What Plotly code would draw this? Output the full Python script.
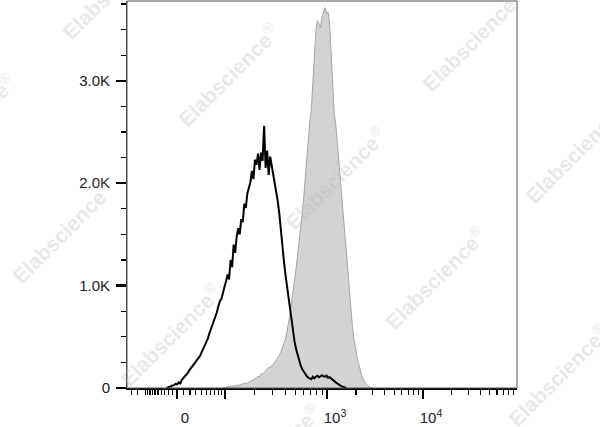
import numpy as np
import plotly.graph_objects as go

# ---------------- data (256-channel biexponential display) ----------------
control_start = 26
control_counts = [
    0, 5, 12, 15, 25, 30, 40, 35, 55, 45,
    80, 95, 110, 130, 150, 175, 195, 215, 235, 260,
    280, 300, 315, 350, 380, 410, 450, 480, 530, 570,
    610, 650, 710, 740, 800, 850, 870, 950, 990, 1040,
    1110, 1060, 1250, 1180, 1400, 1320, 1480, 1560, 1500, 1650,
    1620, 1800, 1760, 1900, 1960, 2010, 2120, 2040, 2230, 2180,
    2290, 2130, 2300, 2220, 2560, 2150, 2320, 2080, 2260, 2170,
    2120, 2000, 1900, 1820, 1700, 1520, 1360, 1240, 1110, 1000,
    880, 760, 640, 550, 450, 380, 320, 260, 220, 185,
    160, 140, 115, 100, 95, 85, 110, 95, 110, 120,
    105, 120, 125, 115, 110, 120, 100, 105, 90, 80,
    70, 55, 45, 35, 20, 15, 10, 5, 0,
]

stained_start = 63
stained_counts = [
    0, 5, 8, 10, 12, 14, 15, 20, 18, 25,
    28, 30, 35, 38, 40, 50, 45, 60, 65, 70,
    85, 90, 100, 115, 110, 140, 135, 150, 165, 175,
    200, 195, 220, 230, 250, 270, 290, 320, 350, 390,
    430, 480, 550, 620, 720, 830, 930, 1050, 1170, 1300,
    1420, 1560, 1700, 1860, 2060, 2280, 2450, 2600, 2720, 2980,
    3300, 3490, 3590, 3560, 3520, 3620, 3670, 3715, 3660, 3670,
    3560, 3300, 2950, 2680, 2580, 2400, 2250, 2080, 1900, 1720,
    1560, 1400, 1150, 950, 760, 600, 480, 380, 300, 240,
    170, 125, 85, 55, 35, 20, 10, 5, 0,
]

x_major_values = [0, 1e2, 1e3, 1e4]
x_major_labels = ["0", " ", "10<sup>3</sup>", "10<sup>4</sup>"]
y_major_values = [0, 1000, 2000, 3000]
y_major_labels = ["0", "1.0K", "2.0K", "3.0K"]

# ---------------- axis transform (biexponential-like) ----------------
ANCHOR_V = np.array([-250.0, 0.0, 1e2, 1e3, 1e4, 1e5])
ANCHOR_CH = np.array([0.0, 32.8, 64.3, 131.3, 194.3, 256.7])


def biex(v):
    u = np.arcsinh(np.asarray(v, dtype=float) / 50.0)
    return np.interp(u, np.arcsinh(ANCHOR_V / 50.0), ANCHOR_CH)


minor_vals = [-200, -150, -100] + [-k * 10 for k in range(9, 0, -1)] + [k * 10 for k in range(1, 10)]
for dec in (1e2, 1e3, 1e4):
    minor_vals += [k * dec for k in range(2, 10)]
x_minor = biex(minor_vals)
y_minor = [v for v in np.arange(0, 3800, 250) if v % 1000 != 0]

ctrl_x = np.arange(control_start, control_start + len(control_counts))
stn_x = np.arange(stained_start, stained_start + len(stained_counts))

fig = go.Figure()
fig.add_trace(go.Scatter(
    x=stn_x, y=stained_counts, mode="lines", fill="tozeroy",
    fillcolor="rgb(211,211,211)", line=dict(color="rgb(165,165,165)", width=1),
    showlegend=False, hoverinfo="skip"))
fig.add_trace(go.Scatter(
    x=ctrl_x, y=control_counts, mode="lines",
    line=dict(color="black", width=2), showlegend=False, hoverinfo="skip"))

font = dict(family="Liberation Sans, Arial, sans-serif", size=15, color="#222")

fig.update_xaxes(
    range=[0, 256], showgrid=False, zeroline=False,
    showline=True, linecolor="black", linewidth=2,
    tickmode="array", tickvals=biex(x_major_values), ticktext=x_major_labels,
    ticks="outside", ticklen=9, tickwidth=2.5, tickcolor="black",
    tickfont=font, ticklabelshift=8, ticklabelstandoff=6,
    minor=dict(tickmode="array", tickvals=x_minor, ticks="outside",
               ticklen=5, tickwidth=1.2, tickcolor="black", showgrid=False),
)
fig.update_yaxes(
    range=[0, 3780], showgrid=False, zeroline=False,
    showline=True, linecolor="#444", linewidth=1,
    tickmode="array", tickvals=y_major_values, ticktext=y_major_labels,
    ticks="outside", ticklen=10, tickwidth=2.5, tickcolor="black",
    tickfont=font, ticklabelstandoff=3,
    minor=dict(tickmode="array", tickvals=y_minor, ticks="outside",
               ticklen=5, tickwidth=1.2, tickcolor="black", showgrid=False),
)

# frame top/right
fig.add_shape(type="rect", xref="paper", yref="paper", x0=0, y0=0, x1=1, y1=1,
              line=dict(color="#555", width=1), fillcolor="rgba(0,0,0,0)", layer="above")

# watermarks (pixel centers in the 600x427 canvas)
L, R, T, B = 127, 83, 1, 39
PW, PH = 600 - L - R, 427 - T - B
wm_centers = [(112, -12), (228, 75), (472, 40), (-35, 125), (335, 178), (575, 152),
              (62, 232), (435, 278), (170, 335), (558, 375), (270, 455)]
for cx, cy in wm_centers:
    fig.add_annotation(
        x=(cx - L) / PW, y=(427 - B - cy) / PH, xref="paper", yref="paper",
        text="<b>Elabscience</b><sup>®</sup>", showarrow=False, textangle=-45,
        xanchor="center", yanchor="middle",
        font=dict(family="Liberation Sans, Arial, sans-serif", size=21,
                  color="rgba(185,185,185,0.33)"))

fig.update_layout(
    width=600, height=427, margin=dict(l=L, r=R, t=T, b=B, autoexpand=False),
    paper_bgcolor="white", plot_bgcolor="white",
)

fig.write_html("out.html", config={"displayModeBar": False, "staticPlot": True},
               post_script="document.body.style.margin='0px';document.body.style.overflow='hidden';")
